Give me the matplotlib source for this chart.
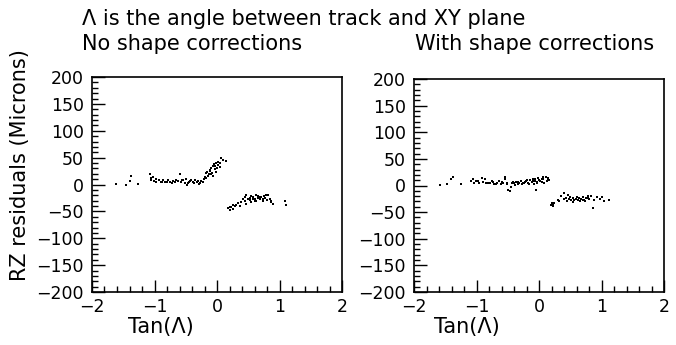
import matplotlib
matplotlib.use("Agg")
import matplotlib.pyplot as plt
from matplotlib.ticker import MultipleLocator

# Tan(Lambda) vs RZ residual, without shape corrections
no_corr_x = [-1.62, -1.45, -1.38, -1.39, -1.27,
             -1.07, -1.06, -1.05, -1.01, -0.97, -0.98, -0.90, -0.86, -0.83, -0.80,
             -0.75, -0.70, -0.65, -0.59, -0.58, -0.54, -0.50, -0.48, -0.45, -0.43,
             -0.39, -0.35, -0.32, -0.27, -0.25,
             -0.21, -0.18, -0.16, -0.12, -0.10, -0.07, -0.05, -0.02, 0.00, -0.09,
             -0.06, -0.14, 0.04, 0.10, 0.14, 0.07,
             -1.03, -0.93, -0.88, -0.78, -0.72, -0.67, -0.62, -0.56, -0.52, -0.46,
             -0.41, -0.37, -0.30, -0.29, -0.23, -0.20, -0.17, -0.13, -0.11, -0.08,
             -0.04, -0.03, 0.01, 0.02, 0.05, -0.01,
             0.18, 0.21, 0.23, 0.26, 0.28, 0.31, 0.36, 0.42, 0.45, 0.47,
             0.50, 0.53, 0.55, 0.58, 0.61, 0.63, 0.66, 0.69, 0.71, 0.73,
             0.77, 0.79, 0.82, 0.84, 0.87, 0.90, 1.09, 1.10, 0.47, 0.55,
             0.63, 0.73,
             0.20, 0.25, 0.33, 0.39, 0.44, 0.52, 0.57, 0.60, 0.65, 0.68,
             0.75, 0.80, 0.86]
no_corr_y = [0.6, 0.0, 15.0, 6.0, 1.2,
             19.0, 12.7, 8.2, 6.3, 5.1, 10.1, 5.1, 7.6, 5.1, 3.8,
             5.1, 6.3, 7.6, 19.0, 5.1, 7.6, 10.1, 0.0, 5.1, 6.3,
             5.1, 8.2, 5.1, 3.2, 7.0,
             10.1, 20.9, 24.0, 25.3, 30.4, 33.5, 38.0, 40.5, 30.4, 19.0,
             15.2, 16.5, 39.2, 46.2, 43.0, 49.4,
             14.0, 8.0, 4.0, 8.0, 3.0, 4.0, 6.0, 9.0, 2.0, 3.0,
             9.0, 2.0, 7.0, 1.0, 4.0, 14.0, 12.0, 20.0, 27.0, 22.0,
             28.0, 34.0, 36.0, 42.0, 32.0, 24.0,
             -44.3, -46.8, -42.4, -45.6, -40.5, -38.0, -39.2, -27.9, -23.4, -20.3,
             -26.6, -25.3, -21.5, -23.4, -26.6, -20.3, -25.3, -27.9, -23.4, -29.8,
             -25.3, -20.3, -19.0, -26.6, -32.9, -36.1, -29.8, -38.6, -36.1, -32.9,
             -31.6, -26.6,
             -41.0, -38.0, -35.0, -33.0, -30.0, -29.0, -27.0, -30.0, -22.0, -24.0,
             -22.0, -28.0, -30.0]

# same tracks, with shape corrections
corr_x = [-1.58, -1.47, -1.41, -1.37, -1.25,
          -1.09, -1.06, -1.035, -1.01, -0.955, -0.92, -0.89, -0.865, -0.82, -0.78,
          -0.74, -0.715, -0.67, -0.635, -0.61, -0.57, -0.545, -0.54, -0.513, -0.49,
          -0.47, -0.45, -0.42, -0.396, -0.37, -0.34, -0.316, -0.29, -0.26, -0.236,
          -0.21, -0.17, -0.14, -0.12, -0.103, -0.087, -0.065, -0.05, -0.033, -0.012,
          0.02, 0.041, 0.063, 0.084, 0.11, 0.137, 0.164,
          -0.98, -0.85, -0.76, -0.69, -0.60, -0.52, -0.44, -0.38, -0.33, -0.27,
          -0.22, -0.19, -0.16, -0.09, -0.07, -0.04, 0.00, 0.05, 0.07, 0.12, 0.15,
          0.19, 0.217, 0.244, 0.297, 0.35, 0.393, 0.43, 0.457, 0.484, 0.51,
          0.537, 0.564, 0.59, 0.617, 0.643, 0.67, 0.697, 0.724, 0.75, 0.777,
          0.804, 0.83, 0.857, 0.884, 0.98, 1.04, 1.12,
          0.20, 0.22, 0.32, 0.40, 0.45, 0.50, 0.55, 0.60, 0.65, 0.70,
          0.74, 0.79, 0.92, 1.00]
corr_y = [0.6, 3.2, 12.7, 16.5, 3.2,
          7.6, 11.4, 5.1, 8.2, 5.1, 14.6, 6.3, 11.4, 5.1, 3.8,
          6.3, 3.2, 5.1, 8.2, 1.9, 5.1, 11.4, 16.5, 2.5, -7.6,
          -10.8, -2.5, 6.3, 3.8, 6.3, 2.5, 5.1, 8.2, 5.6, 3.8,
          8.2, 5.1, 10.1, 6.3, 12.7, 2.5, 8.2, -7.6, 6.3, 14.6,
          8.2, 11.4, 15.2, 5.1, 16.5, 12.7, 10.1,
          9.0, 4.0, 8.0, 2.0, 7.0, 5.0, 4.0, 1.0, 7.0, 2.0,
          6.0, 11.0, 3.0, 9.0, 13.0, 4.0, 10.0, 6.0, 12.0, 9.0, 14.0,
          -36.0, -34.2, -32.9, -26.6, -20.3, -13.9, -23.4, -17.1, -25.3, -27.9,
          -23.4, -27.9, -24.7, -26.6, -22.8, -25.3, -21.5, -26.6, -24.0, -20.3,
          -25.3, -19.0, -42.4, -26.6, -25.3, -29.8, -27.9,
          -32.0, -38.0, -29.0, -26.0, -30.0, -22.0, -31.0, -21.0, -29.0, -27.0,
          -30.0, -23.0, -21.0, -22.0]

x_ticks = [-2, -1, 0, 1, 2]
y_ticks = [-200, -150, -100, -50, 0, 50, 100, 150, 200]

FS_TEXT = 15
FS_TICK = 12.5


def style_axes(ax):
    ax.set_xlim(-2, 2)
    ax.set_ylim(-200, 200)
    ax.set_xticks(x_ticks)
    ax.set_yticks(y_ticks)
    ax.xaxis.set_minor_locator(MultipleLocator(0.2))
    ax.yaxis.set_minor_locator(MultipleLocator(10))
    ax.tick_params(which="both", direction="in", top=False, right=False,
                   labelsize=FS_TICK, width=1.0, color="black")
    ax.tick_params(axis="y", which="major", length=9, pad=6)
    ax.tick_params(axis="y", which="minor", length=4.5)
    ax.tick_params(axis="x", which="major", length=9, pad=4)
    ax.tick_params(axis="x", which="minor", length=4.5)
    for sp in ax.spines.values():
        sp.set_linewidth(1.2)


def main():
    W, H = 676, 345
    fig = plt.figure(figsize=(W / 100, H / 100), dpi=100)

    ax1 = fig.add_axes([92 / W, 1 - 292 / H, 250 / W, 215 / H])
    ax2 = fig.add_axes([414 / W, 1 - 292 / H, 250 / W, 213 / H])

    for ax, xs, ys in [(ax1, no_corr_x, no_corr_y), (ax2, corr_x, corr_y)]:
        ax.scatter(xs, ys, s=1.6, marker="s", color="black", linewidths=0)
        style_axes(ax)

    # headers
    fig.text(82 / W, 1 - 19 / H, "\u039b is the angle between track and XY plane",
             fontsize=FS_TEXT, va="center", ha="left")
    fig.text(82 / W, 1 - 44 / H, "No shape corrections",
             fontsize=FS_TEXT, va="center", ha="left")
    fig.text(415 / W, 1 - 44 / H, "With shape corrections",
             fontsize=FS_TEXT, va="center", ha="left")

    # axis labels
    fig.text(20 / W, 1 - 165 / H, "RZ residuals (Microns)", rotation=90,
             fontsize=FS_TEXT, va="center", ha="center")
    fig.text(161 / W, 1 - 327 / H, "Tan(\u039b)", fontsize=FS_TEXT,
             va="center", ha="center")
    fig.text(467 / W, 1 - 327 / H, "Tan(\u039b)", fontsize=FS_TEXT,
             va="center", ha="center")

    fig.savefig("out.png", dpi=100)


if __name__ == "__main__":
    main()
